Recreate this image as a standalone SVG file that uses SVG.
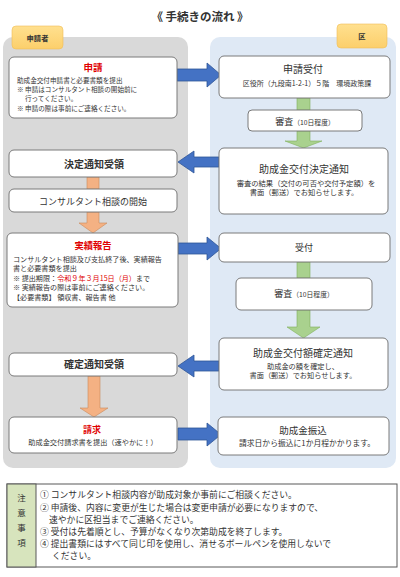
<svg xmlns="http://www.w3.org/2000/svg" width="400" height="577" viewBox="0 0 400 577">
<defs>
<linearGradient id="tabg" x1="0" y1="0" x2="0" y2="1"><stop offset="0" stop-color="#ffe08f"/><stop offset="1" stop-color="#fccf6b"/></linearGradient>
<style>
text{font-family:"Noto Sans CJK JP","Noto Sans CJK SC",sans-serif;fill:#333}
.box{fill:#fff;stroke:#7a7a7a;stroke-width:1}
.c{text-anchor:middle}
.b{font-weight:bold}
.r{fill:#e00000}
.blue{fill:#4472c4;stroke:#2f5597;stroke-width:0.8}
.org{fill:#f4b183;stroke:#c98a5a;stroke-width:0.6}
.grn{fill:#a9d18e;stroke:#7fb05a;stroke-width:0.6}
.tab{fill:url(#tabg);stroke:#f0bd57;stroke-width:0.6}
.note{font-size:8.8px}
.jl{font-size:7.1px}
</style>
</defs>
<rect width="400" height="577" fill="#fff"/>
<text x="200" y="21" class="c b" font-size="11.5">《 手続きの流れ 》</text>

<g id="panels">
<rect x="3" y="37" width="185" height="431" rx="10" fill="#d9d9d9"/>
<rect x="210" y="37" width="186" height="431" rx="10" fill="#dfe9f5"/>
</g>
<g id="tab-applicant"><rect class="tab" x="12" y="26" width="51" height="23" rx="4"/><text x="37.5" y="40.5" class="c b" font-size="7.3">申請者</text></g>
<g id="tab-ku"><rect class="tab" x="337" y="24" width="50" height="24" rx="4"/><text x="362" y="39" class="c b" font-size="7.3">区</text></g>

<g id="connectors">
<polygon class="blue" points="177,69 207,69 207,63 221,75 207,87 207,81 177,81"/>
<polygon class="blue" points="219,157 194,157 194,151 178,162 194,173 194,167 219,167"/>
<polygon class="blue" points="178,243 207,243 207,237 221,248.5 207,260 207,254 178,254"/>
<polygon class="blue" points="219,361 194,361 194,355 178,366 194,377 194,371 219,371"/>
<polygon class="blue" points="178,428 207,428 207,423 221,434.5 207,446 207,440 178,440"/>
<rect class="grn" x="297" y="98" width="13" height="12"/>
<polygon class="grn" points="297,131 310,131 310,141 322,141 303.5,148 285,141 297,141"/>
<rect class="grn" x="297" y="262" width="13" height="16"/>
<polygon class="grn" points="297,310 310,310 310,327 320,327 303.5,338 287,327 297,327"/>
<rect class="org" x="87" y="177" width="12" height="12"/>
<polygon class="org" points="87,212 99,212 99,223 107,223 93,233 79,223 87,223"/>
<polygon class="org" points="88,376 100,376 100,408 108,408 94,417 80,408 88,408"/>
</g>

<g id="n-shinsei">
<rect class="box" x="9" y="57" width="168" height="61" rx="5"/>
<text x="93" y="70.5" class="c b r" font-size="9.5">申請</text>
<text x="17" y="82.5" font-size="6.6">助成金交付申請書と必要書類を提出</text>
<text x="17" y="91.5" font-size="6.6">※ 申請はコンサルタント相談の開始前に</text>
<text x="25" y="100.5" font-size="6.6">行ってください。</text>
<text x="17" y="110.5" font-size="6.6">※ 申請の際は事前にご連絡ください。</text>
</g>
<g id="n-kettei-juryo">
<rect class="box" x="9" y="150" width="168" height="27" rx="5"/>
<text x="94" y="167.5" class="c b" font-size="10">決定通知受領</text>
</g>
<g id="n-consult">
<rect class="box" x="9" y="189" width="168" height="23" rx="5"/>
<text x="93" y="204.5" class="c" font-size="9">コンサルタント相談の開始</text>
</g>
<g id="n-jisseki">
<rect class="box" x="7" y="233" width="171" height="74" rx="5"/>
<text x="93" y="248.5" class="c b r" font-size="9.3">実績報告</text>
<text x="13" y="261.7" class="jl">コンサルタント相談及び支払終了後、実績報告</text>
<text x="13" y="270.9" class="jl">書と必要書類を提出</text>
<text x="13" y="280.7" class="jl">※ 提出期限：<tspan class="r">令和９年３月15日（月）</tspan>まで</text>
<text x="13" y="290" class="jl">※ 実績報告の際は事前にご連絡ください。</text>
<text x="13" y="299.7" class="jl">【必要書類】 領収書、報告書 他</text>
</g>
<g id="n-kakutei-juryo">
<rect class="box" x="9" y="353" width="168" height="23" rx="5"/>
<text x="94" y="368" class="c b" font-size="10">確定通知受領</text>
</g>
<g id="n-seikyu">
<rect class="box" x="9" y="417" width="168" height="36" rx="5"/>
<text x="92" y="432.5" class="c b r" font-size="9">請求</text>
<text x="93" y="444.5" class="c" font-size="7.2">助成金交付請求書を提出（速やかに！）</text>
</g>

<g id="n-uketsuke1">
<rect class="box" x="219" y="56" width="171" height="42" rx="5"/>
<text x="303" y="72.5" class="c" font-size="10">申請受付</text>
<text x="307" y="86" class="c" font-size="7">区役所（九段南1-2-1）５階　環境政策課</text>
</g>
<g id="n-shinsa1">
<rect class="box" x="248" y="110" width="114" height="21" rx="4"/>
<text x="305" y="124.5" class="c" font-size="9">審査<tspan font-size="6.8">（10日程度）</tspan></text>
</g>
<g id="n-kettei-tsuchi">
<rect class="box" x="219" y="148" width="169" height="66" rx="5"/>
<text x="304" y="172.5" class="c" font-size="10">助成金交付決定通知</text>
<text x="306" y="185.5" class="c" font-size="7.3">審査の結果（交付の可否や交付予定額）を</text>
<text x="304" y="194.5" class="c" font-size="7.3">書面（郵送）でお知らせします。</text>
</g>
<g id="n-uketsuke2">
<rect class="box" x="219" y="233" width="171" height="29" rx="5"/>
<text x="304" y="250.5" class="c" font-size="9">受付</text>
</g>
<g id="n-shinsa2">
<rect class="box" x="236" y="278" width="136" height="32" rx="5"/>
<text x="304" y="297" class="c" font-size="9">審査<tspan font-size="6.8">（10日程度）</tspan></text>
</g>
<g id="n-kakutei-tsuchi">
<rect class="box" x="219" y="338" width="169" height="52" rx="5"/>
<text x="303" y="357" class="c" font-size="10">助成金交付額確定通知</text>
<text x="303" y="368.5" class="c" font-size="7.2">助成金の額を確定し、</text>
<text x="303" y="378" class="c" font-size="7.2">書面（郵送）でお知らせします。</text>
</g>
<g id="n-furikomi">
<rect class="box" x="218" y="417" width="171" height="38" rx="5"/>
<text x="303" y="433.5" class="c" font-size="9.5">助成金振込</text>
<text x="307" y="446" class="c" font-size="7.8">請求日から振込に1か月程かかります。</text>
</g>

<g id="notes">
<rect x="7" y="484" width="390" height="83" fill="#fff" stroke="#595959" stroke-width="1"/>
<rect x="7" y="484" width="29" height="83" fill="#d7e4bd" stroke="#595959" stroke-width="1"/>
<text x="21.5" y="501" class="c" font-size="8.5">注</text>
<text x="21.5" y="516" class="c" font-size="8.5">意</text>
<text x="21.5" y="531" class="c" font-size="8.5">事</text>
<text x="21.5" y="546" class="c" font-size="8.5">項</text>
<text x="40" y="498" class="note">① コンサルタント相談内容が助成対象か事前にご相談ください。</text>
<text x="40" y="510.5" class="note">② 申請後、内容に変更が生じた場合は変更申請が必要になりますので、</text>
<text x="49" y="522.5" class="note">速やかに区担当までご連絡ください。</text>
<text x="40" y="534.5" class="note">③ 受付は先着順とし、予算がなくなり次第助成を終了します。</text>
<text x="40" y="546.5" class="note">④ 提出書類にはすべて同じ印を使用し、消せるボールペンを使用しないで</text>
<text x="52" y="558.5" class="note">ください。</text>
</g>
</svg>
